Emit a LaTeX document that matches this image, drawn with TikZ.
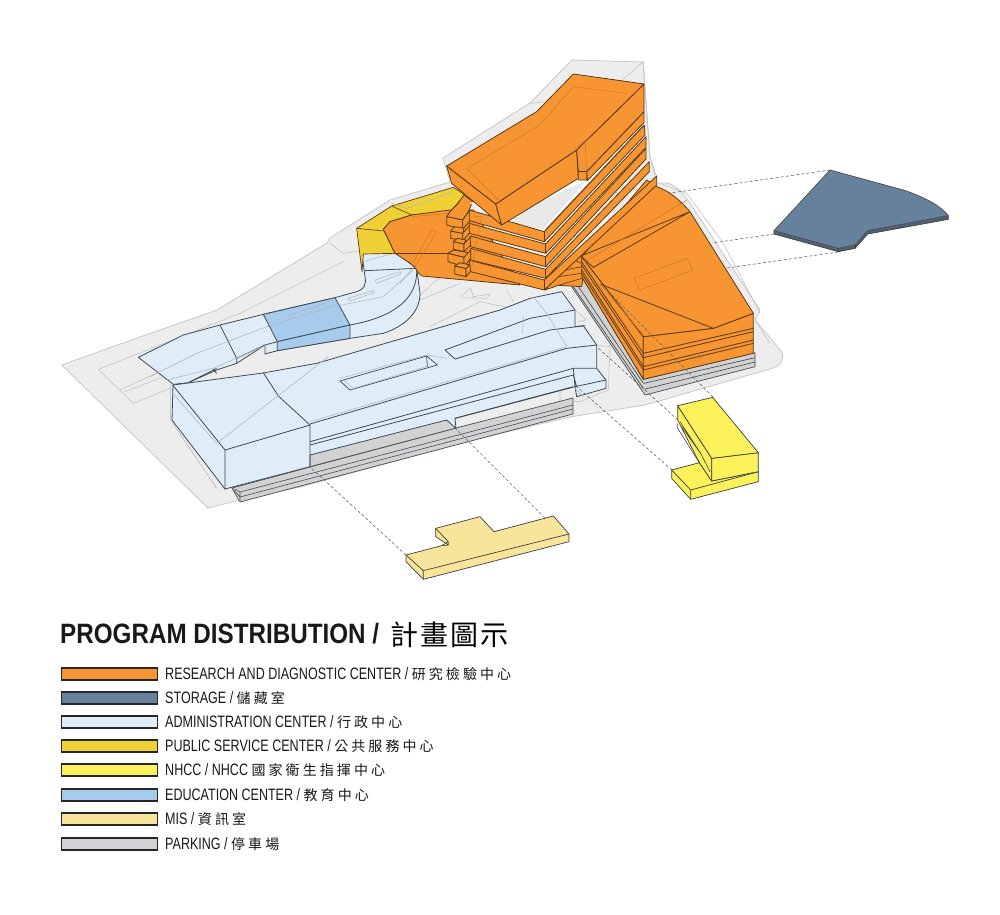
\documentclass[tikz,border=0pt]{standalone}
\usepackage{fontspec}
\setmainfont[FakeStretch=0.76]{Liberation Sans}
\newfontfamily\titlefont[FakeStretch=0.865]{Liberation Sans Bold}
\newfontfamily\cjk{Noto Sans CJK TC}
\newfontfamily\cjkt[LetterSpace=22]{Noto Sans CJK TC}
\newfontfamily\cjkl[LetterSpace=7]{Noto Sans CJK TC}
\definecolor{org}{HTML}{F79533}
\definecolor{orgline}{HTML}{5A3A15}
\definecolor{stor}{HTML}{65819B}
\definecolor{admin}{HTML}{DEEDF8}
\definecolor{edu}{HTML}{A6CBEC}
\definecolor{gold}{HTML}{EFD035}
\definecolor{nhcc}{HTML}{FBF15B}
\definecolor{mis}{HTML}{F9E49B}
\definecolor{park}{HTML}{D1D2D4}
\definecolor{ground}{HTML}{EDEDEE}
\definecolor{gline}{HTML}{C2C3C5}
\definecolor{bline}{HTML}{3F4A55}
\tikzset{
 zA/.style={x=0.33333pt,y=-0.33333pt,shift={(430pt,-60pt)}},
 zB/.style={x=0.33333pt,y=-0.33333pt,shift={(50pt,-230pt)}},
 zC/.style={x=0.33333pt,y=-0.33333pt,shift={(300pt,-280pt)}},
 zE/.style={x=0.33333pt,y=-0.33333pt,shift={(340pt,-170pt)}},
 zF/.style={x=0.33333pt,y=-0.33333pt,shift={(570pt,-160pt)}},
 gnd/.style={fill=ground,draw=gline,line width=0.7pt,line join=round},
 thinl/.style={draw=gline,line width=0.6pt},
 adm/.style={fill=admin,draw=bline,line width=0.8pt,line join=round},
 admin line/.style={draw=bline,line width=0.8pt},
 ghost/.style={draw=black!28,line width=0.6pt},
 parkf/.style={fill=park,draw=black!70,line width=0.7pt,line join=round},
 orgf/.style={fill=org,draw=orgline,line width=0.8pt,line join=round},
 orgl/.style={draw=orgline,line width=0.8pt},
 orgghost/.style={draw=orgline!30!org,line width=0.5pt},
 conn/.style={draw=black!60,line width=0.6pt,dash pattern=on 3pt off 2.2pt},
 swatch/.style={draw=black!85,line width=1.4pt,minimum width=96.5pt,minimum height=12pt,inner sep=0pt,anchor=west},
 legtext/.style={anchor=west,inner sep=0pt,font=\fontsize{16.5}{16.5}\selectfont,text=black!90}
}
\begin{document}
\begin{tikzpicture}[x=1pt,y=-1pt]
\useasboundingbox (0,0) rectangle (1000,914);
\fill[white] (0,0) rectangle (1000,914);
% ground
\draw[gnd] (61.7,365) -- (137,338) -- (217,310) -- (327,243) -- (330,238) -- (390,200) -- (450,182) -- (443,158) -- (530,103) -- (572,60) -- (643,62) -- (650,157) -- (657,183) -- (667,183) .. controls (678,186) and (684,195) .. (690,203) -- (760,310) -- (755,320) -- (782,352) .. controls (784,362) and (780,366) .. (770,369) -- (645,405) -- (570,417) -- (473,440) -- (300,487) -- (240,500) -- (208,508) -- cycle;
% site detail lines
\begin{scope}[zB]
\draw[thinl] (145,418) -- (570,250) -- (880,95) (145,418) -- (250,520) -- (360,475) (210,480) -- (350,415) (225,485) -- (380,425);
\draw[thinl] (840,40) -- (880,70) -- (945,60);
\draw[thinl] (1105,200) -- (1160,150) -- (1200,130);
\end{scope}
\begin{scope}[zE]
\draw[thinl] (360,380) -- (392,355) -- (400,380) -- (450,372) -- (440,385) -- (365,383);
\draw[thinl] (240,390) -- (360,340) (270,470) -- (420,395) -- (540,420) (500,360) -- (520,395);
\end{scope}
\begin{scope}[zA]
\draw[thinl] (975,780) -- (1020,850) (880,550) -- (985,750) -- (990,760);
\draw[thinl] (690,370) -- (770,400) -- (880,550);
\draw[thinl] (660,290) -- (680,350);
\draw[thinl] (640,5) -- (520,110) -- (300,130) (640,5) -- (660,290);
\end{scope}
\begin{scope}[zC]
\draw[thinl] (890,195) -- (930,200) -- (925,330) -- (840,365) -- (780,360) -- (780,335);
\draw[thinl] (825,90) -- (860,120) -- (835,125);
\end{scope}
% main admin building: parking under it
\draw[parkf] (232,488) -- (310,467) -- (456,428) -- (573,398) -- (573,414) -- (240,502) -- cycle;
\draw[parkf,line width=0.6pt] (240,497) -- (573,409) (240,492) -- (573,405) (235,489) -- (240,492) -- (240,502) (232,488)--(240,497);
\begin{scope}[zC]
\fill[park] (30,525) -- (440,420) -- (465,445) -- (30,560) -- cycle;
\draw[black!70,line width=0.7pt] (30,560) -- (465,445);
\end{scope}
% main admin building
\begin{scope}[zC]
\filldraw[adm] (-381,315) -- (-111,279) -- (50,250) -- (600,90) -- (690,55) -- (785,35) -- (825,90) -- (825,140) -- (850,137) -- (890,195) -- (890,265) -- (918,300) -- (918,325) -- (830,350) -- (825,320) -- (465,415) -- (468,445) -- (440,420) -- (30,525) -- (30,560) -- (-225,627) -- (-384,420) -- cycle;
\end{scope}
\begin{scope}[zB]
\draw[admin line] (368,465) -- (525,660) -- (525,778) (525,660) -- (780,585) -- (780,712) (780,585) -- (685,498) -- (640,428);
\draw[ghost] (500,640) -- (835,380) (362,460) -- (362,570) -- (500,775) (500,640) -- (368,490);
\end{scope}
\begin{scope}[zC]
\draw[admin line] (30,432) -- (800,205) -- (890,195);
\draw[admin line] (435,210) -- (690,115) -- (825,90);
\draw[admin line] (435,210) -- (465,237) -- (750,150) -- (855,137);
\draw[admin line] (30,485) -- (820,265) -- (890,265);
\draw[admin line] (30,495) -- (820,285) -- (830,320) (465,415) -- (820,320) (820,265) -- (825,320) (825,320) -- (918,300);
\draw[ghost] (30,425) -- (800,200) (670,110) -- (668,160) (700,50) -- (740,100) -- (800,200) (120,295) -- (380,225) (380,225) -- (440,235) (820,320) -- (850,350);
\filldraw[fill=admin,draw=bline,line width=0.7pt] (120,303) -- (380,228) -- (412,255) -- (150,330) -- cycle;
\draw[ghost] (130,300) -- (160,325) -- (385,258);
\draw[admin line,line width=0.7pt] (380,228) -- (382,260);
\end{scope}
% curved admin building
\begin{scope}[zB]
\filldraw[adm] (265,382) -- (400,315) -- (510,285) -- (640,253) -- (855,203) -- (920,185) .. controls (940,180) and (950,165) .. (945,140) -- (935,65) -- (1040,70) -- (1100,115) -- (1110,190) .. controls (1110,250) and (1060,290) .. (1000,310) -- (900,325) -- (682,362) -- (645,372) -- (645,345) -- (560,400) -- (500,420) -- (415,458) -- (370,463) -- cycle;
\draw[admin line] (945,122) -- (1100,115) (1100,115) .. controls (1105,200) and (1040,260) .. (900,285);
\draw[admin line] (510,285) -- (560,385) -- (560,400) (645,345) -- (682,335) (560,385) -- (645,345);
\draw[admin line] (500,415) -- (415,458) (490,418) -- (500,430);
\draw[ghost] (300,440) -- (440,370) -- (650,290) -- (850,230) -- (1000,200) -- (1090,120);
\draw[ghost] (350,450) -- (490,415) -- (650,345);
\draw[ghost] (895,205) -- (970,182) -- (972,188) -- (900,213) -- cycle;
\draw[ghost] (975,150) -- (1050,125) -- (1052,132) -- (980,160) -- cycle;
\draw[ghost] (1050,160) -- (1090,112) (940,95) -- (1030,70);
\filldraw[fill=edu,draw=bline,line width=0.8pt,line join=round] (640,253) -- (855,203) -- (900,285) -- (682,335) -- cycle;
\filldraw[fill=edu,draw=bline,line width=0.8pt,line join=round] (682,335) -- (900,285) -- (900,325) -- (682,362) -- cycle;
\draw[draw=black!30,line width=0.5pt] (650,290) -- (860,225) (720,255) -- (850,210);
\end{scope}
% gold & flat orange
\begin{scope}[zE]
\filldraw[fill=gold,draw=orgline,line width=0.7pt,line join=round] (50,175) -- (155,108) -- (340,52) -- (375,75) -- (330,125) -- (215,135) -- (150,155) -- (130,178) -- (165,250) -- (70,252) -- (66,305) -- cycle;
\draw[orgl,line width=0.6pt] (155,108) -- (215,135) (50,175) -- (130,183);
\draw[ghost] (155,100) -- (200,115) -- (340,65);
\filldraw[orgf] (130,178) -- (150,155) -- (215,135) -- (330,120) -- (400,120) -- (540,345) -- (245,318) -- (232,305) .. controls (225,285) and (195,270) .. (165,250) -- cycle;
\draw[orgl,line width=0.6pt] (165,250) -- (325,250);
\draw[orgghost] (215,140) -- (330,130) (225,290) -- (290,185) -- (275,180) -- (215,285);
% tabs
\filldraw[orgf] (320,140) -- (368,150) -- (385,125) -- (398,95) -- (372,75) -- (350,105) -- (330,125) -- cycle;
\filldraw[orgf] (320,140) -- (368,150) -- (368,178) -- (320,165) -- cycle;
\filldraw[orgf] (368,150) -- (388,122) -- (392,150) -- (368,178) -- cycle;
\filldraw[orgf] (332,183) -- (368,190) -- (368,212) -- (332,205) -- cycle;
\filldraw[orgf] (368,190) -- (390,165) -- (390,188) -- (368,212) -- cycle;
\filldraw[orgf] (332,183) -- (345,170) -- (372,175) -- (368,190) -- cycle;
\filldraw[orgf] (340,215) -- (372,222) -- (372,245) -- (340,238) -- cycle;
\filldraw[orgf] (372,222) -- (392,200) -- (392,225) -- (372,245) -- cycle;
\filldraw[orgf] (340,215) -- (352,205) -- (378,210) -- (372,222) -- cycle;
\filldraw[orgf] (324,250) -- (340,240) -- (385,248) -- (372,262) -- cycle;
\filldraw[orgf] (324,250) -- (372,262) -- (372,290) -- (324,275) -- cycle;
\filldraw[orgf] (372,262) -- (392,240) -- (392,265) -- (372,290) -- cycle;
\filldraw[orgf] (344,288) -- (360,278) -- (390,285) -- (378,296) -- cycle;
\filldraw[orgf] (344,288) -- (378,296) -- (378,320) -- (344,312) -- cycle;
\filldraw[orgf] (378,296) -- (395,278) -- (395,300) -- (378,320) -- cycle;
\end{scope}
% right block
\begin{scope}[zA]
\filldraw[parkf] (425,680) -- (455,650) -- (640,958) -- (975,878) -- (975,920) -- (645,1005) -- cycle;
\draw[black!75,line width=0.6pt] (642,970) -- (975,893) (642,988) -- (975,906) (430,680) -- (640,985) (440,672) -- (640,970);
\filldraw[orgf] (345,690) -- (390,640) -- (440,590) -- (470,590) -- (455,680) -- (385,676) -- cycle;
\draw[orgl,line width=0.6pt] (385,650) -- (455,640) (405,630) -- (455,620) (385,676) -- (455,655) (430,600)--(455,610);
\filldraw[orgf] (455,590) -- (640,830) -- (640,958) -- (455,650) -- cycle;
\filldraw[orgf] (640,830) -- (850,805) -- (970,760) -- (970,880) -- (640,958) -- cycle;
\draw[orgl] (640,880) -- (970,805) (640,893) -- (970,815) (640,920) -- (970,840) (640,930) -- (970,850);
\draw[orgl] (455,605) -- (640,880) (455,615) -- (640,893) (455,630) -- (640,920) (455,640) -- (640,930);
\filldraw[orgf] (455,590) -- (650,360) -- (680,380) .. controls (715,392) and (745,415) .. (780,455) -- (970,760) -- (850,805) -- (640,830) -- cycle;
\draw[orgl] (780,455) -- (460,585) (780,455) -- (490,622) -- (455,590) (510,672) -- (850,805);
\draw[orgghost] (612,655) -- (770,595) -- (788,630) -- (630,690) -- cycle;
\draw[orgghost] (465,605) -- (770,420) (510,672) -- (640,825);
% tower white gap
\fill[white] (120,430) -- (240,495) -- (340,515) -- (645,195) -- (645,150) -- cycle;
\fill[black!9] (240,490) -- (340,507) -- (472,360) -- (300,440) -- cycle;
\draw[black!50,line width=0.7pt] (345,510) -- (638,198);
% tower floors bottom to top
\filldraw[orgf] (118,600) -- (343,660) -- (680,348) -- (680,375) -- (343,690) -- (122,635) -- cycle;
\draw[orgl] (343,660) -- (343,690);
\filldraw[orgf] (122,565) -- (347,628) -- (658,305) -- (658,335) -- (347,655) -- (122,600) -- cycle;
\draw[orgl] (347,628) -- (347,655);
\filldraw[orgf] (120,528) -- (347,590) -- (648,265) -- (648,297) -- (347,620) -- (122,560) -- cycle;
\draw[orgl] (347,590) -- (347,620);
\filldraw[orgf] (118,490) -- (347,552) -- (648,230) -- (648,262) -- (347,580) -- (118,520) -- cycle;
\draw[orgl] (347,552) -- (347,580);
\filldraw[orgf] (118,450) -- (343,515) -- (643,195) -- (645,225) -- (343,545) -- (118,482) -- cycle;
\draw[orgl] (343,515) -- (343,545);
\draw[orgghost] (130,470) -- (155,470) -- (125,620);
% slab directly under the top block
\filldraw[orgf] (470,335) -- (642,155) -- (642,188) -- (472,362) -- cycle;
% top block
\filldraw[orgf] (50,318) -- (197,432) -- (215,495) -- (65,370) -- cycle;
\filldraw[orgf] (197,432) -- (440,270) -- (445,355) -- (215,495) -- cycle;
\filldraw[orgf] (440,270) -- (642,72) -- (642,155) -- (470,335) -- (470,360) -- (445,360) -- (445,335) -- cycle;
\draw[orgl] (445,335) -- (470,335);
\filldraw[orgf] (50,318) -- (320,155) -- (430,42) -- (642,72) -- (440,270) -- (197,432) -- cycle;
\draw[orgghost] (120,320) -- (330,195) -- (430,80) -- (590,100) (205,420) -- (110,325) (440,262) -- (465,240) -- (470,335);
\end{scope}
% storage
\begin{scope}[zF]
\filldraw[fill=stor!75!black,draw=black!75,line width=0.7pt,line join=round] (612,212) -- (612,222) -- (805,275) -- (855,265) -- (893,222) -- (1135,178) -- (1135,167) -- cycle;
\filldraw[fill=stor,draw=black!70,line width=0.7pt,line join=round] (612,212) -- (780,30) -- (1000,90) .. controls (1060,110) and (1110,135) .. (1135,167) -- (893,212) -- (855,255) -- (805,265) -- cycle;
\draw[black!75,line width=0.6pt] (805,265) -- (805,275) (855,255) -- (855,265);
% NHCC
\filldraw[fill=nhcc,draw=black!75,line width=0.7pt,line join=round] (305,930) -- (388,908) -- (425,963) -- (565,935) -- (565,965) -- (362,1018) -- (305,955) -- cycle;
\draw[black!75,line width=0.7pt] (305,930) -- (362,990) -- (565,935) (362,990) -- (362,1018);
\filldraw[fill=nhcc,draw=black!75,line width=0.7pt,line join=round] (323,780) -- (388,908) -- (425,963) -- (425,895) -- (323,737) -- cycle;
\draw[black!75,line width=0.6pt] (323,790) -- (323,805) -- (388,908) (330,785) -- (392,880) -- (420,935) (335,800)--(395,885);
\filldraw[fill=nhcc,draw=black!75,line width=0.7pt,line join=round] (425,895) -- (565,878) -- (565,935) -- (425,963) -- cycle;
\filldraw[fill=nhcc,draw=black!75,line width=0.7pt,line join=round] (323,737) -- (428,712) -- (565,878) -- (425,895) -- cycle;
\end{scope}
% MIS
\begin{scope}[zC]
\filldraw[fill=mis,draw=black!75,line width=0.7pt,line join=round] (318,825) -- (425,797) -- (445,795) -- (407,770) -- (407,745) -- (540,710) -- (582,755) -- (760,708) -- (807,762) -- (807,785) -- (370,898) -- (318,845) -- cycle;
\draw[black!75,line width=0.7pt] (318,825) -- (370,872) -- (807,762) (370,872) -- (370,898) (407,745) -- (445,785) -- (445,795) (425,797) -- (445,785);
\end{scope}
% connectors
\coordinate (c1) at (830,170); \coordinate (c2) at (670,193);
\coordinate (c3) at (774,234); \coordinate (c4) at (712,243);
\coordinate (c5) at (838,252); \coordinate (c6) at (727,268);
\coordinate (c7) at (713,397); \coordinate (c8) at (600,283);
\coordinate (c9) at (678,420); \coordinate (c10) at (597,347);
\coordinate (c11) at (672,470); \coordinate (c12) at (577,387);
\coordinate (c13) at (406,555); \coordinate (c14) at (310,467);
\coordinate (c15) at (545,518); \coordinate (c16) at (455,428);
\draw[conn] (c1)--(c2) (c3)--(c4) (c5)--(c6) (c7)--(c8) (c9)--(c10) (c11)--(c12) (c13)--(c14) (c15)--(c16);
% legend
\node[anchor=west,inner sep=0pt,font=\titlefont\fontsize{28}{28}\selectfont,text=black!90] (title) at (60,634) {PROGRAM DISTRIBUTION /};
\node[anchor=west,inner sep=0pt,font=\cjkl\fontsize{28}{28}\selectfont] (titlec) at (390,635) {計畫圖示};
\node[swatch,fill=org] (s1) at (60.5,674) {};
\node[swatch,fill=stor] (s2) at (60.5,698) {};
\node[swatch,fill=admin] (s3) at (60.5,722) {};
\node[swatch,fill=gold] (s4) at (60.5,746) {};
\node[swatch,fill=nhcc] (s5) at (60.5,770) {};
\node[swatch,fill=edu] (s6) at (60.5,795) {};
\node[swatch,fill=mis] (s7) at (60.5,819) {};
\node[swatch,fill=park] (s8) at (60.5,844) {};
\newcommand{\czh}[1]{{\cjkt\fontsize{14}{14}\selectfont #1}}
\node[legtext] (t1) at (165,674) {RESEARCH AND DIAGNOSTIC CENTER / \czh{研究檢驗中心}};
\node[legtext] (t2) at (165,698) {STORAGE / \czh{儲藏室}};
\node[legtext] (t3) at (165,722) {ADMINISTRATION CENTER / \czh{行政中心}};
\node[legtext] (t4) at (165,746) {PUBLIC SERVICE CENTER / \czh{公共服務中心}};
\node[legtext] (t5) at (165,770) {NHCC / NHCC \czh{國家衛生指揮中心}};
\node[legtext] (t6) at (165,795) {EDUCATION CENTER / \czh{教育中心}};
\node[legtext] (t7) at (165,819) {MIS / \czh{資訊室}};
\node[legtext] (t8) at (165,844) {PARKING / \czh{停車場}};
\end{tikzpicture}
\end{document}
